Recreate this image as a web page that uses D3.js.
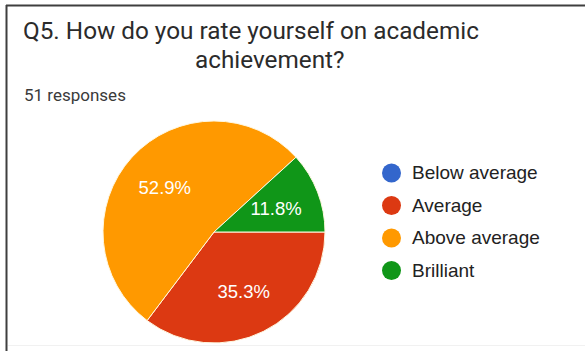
<!DOCTYPE html>
<html>
<head>
<meta charset="utf-8">
<script src="https://cdn.jsdelivr.net/npm/d3@7"></script>
<style>
  html, body { margin: 0; padding: 0; background: #fff; }
  svg { display: block; }
</style>
</head>
<body>
<svg id="chart" width="585" height="351"></svg>
<script>
// Survey answers for Q5
const categories = ["Below average", "Average", "Above average", "Brilliant"];
const counts = [0, 18, 27, 6];
const colors = ["#3366cc", "#dc3912", "#ff9900", "#109618"];
const titleLines = ["Q5. How do you rate yourself on academic", "achievement?"];
const responseNote = "51 responses";

const W = 585, H = 351;
const svg = d3.select("#chart");

// Card frame: dark rule on top and left, faint one at the bottom
svg.append("line").attr("x1", 6).attr("x2", W).attr("y1", 5.5).attr("y2", 5.5)
  .attr("stroke", "#3f3f3f").attr("stroke-width", 2);
svg.append("line").attr("x1", 6.5).attr("x2", 6.5).attr("y1", 5).attr("y2", H)
  .attr("stroke", "#3f3f3f").attr("stroke-width", 2);
svg.append("line").attr("x1", 8).attr("x2", W).attr("y1", 345.5).attr("y2", 345.5)
  .attr("stroke", "#f1f1f1").attr("stroke-width", 1);

// Title (two lines) and response count
svg.append("text").attr("x", 23).attr("y", 39)
  .attr("font-family", "Roboto, sans-serif").attr("font-size", 24.3)
  .attr("fill", "#2b2b2b").text(titleLines[0]);
svg.append("text").attr("x", 195).attr("y", 67.5)
  .attr("font-family", "Roboto, sans-serif").attr("font-size", 24.3)
  .attr("fill", "#2b2b2b").text(titleLines[1]);
svg.append("text").attr("x", 24).attr("y", 101)
  .attr("font-family", "Roboto, sans-serif").attr("font-size", 17)
  .attr("fill", "#3a3a3a").text(responseNote);

// Pie, starting at three o'clock and running clockwise
const cx = 214, cy = 232, R = 111;
const total = d3.sum(counts);
const data = categories.map((c, i) => ({ name: c, value: counts[i], color: colors[i] }));
const pie = d3.pie().value(d => d.value).sort(null)
  .startAngle(Math.PI / 2).endAngle(Math.PI / 2 + 2 * Math.PI);
const arcs = pie(data);
const arc = d3.arc().innerRadius(0).outerRadius(R);
const labelArc = d3.arc().innerRadius(R * 0.6).outerRadius(R * 0.6);

const g = svg.append("g").attr("transform", `translate(${cx},${cy})`);
g.selectAll("path.slice").data(arcs.filter(a => a.data.value > 0)).join("path")
  .attr("class", "slice")
  .attr("d", arc)
  .attr("fill", d => d.data.color)
  .attr("stroke", "#fff8e0").attr("stroke-width", 1);

const fmt = d3.format(".1f");
g.selectAll("text.pct").data(arcs.filter(a => a.data.value > 0)).join("text")
  .attr("class", "pct")
  .attr("transform", d => `translate(${labelArc.centroid(d)})`)
  .attr("text-anchor", "middle").attr("dy", "0.36em")
  .attr("font-family", "'Liberation Sans', Arial, sans-serif").attr("font-size", 18.5)
  .attr("fill", "#fff")
  .text(d => fmt(d.data.value / total * 100) + "%");

// Legend
const legend = svg.append("g");
const rowY = d3.scalePoint().domain(categories).range([179, 276.5]);
const rows = legend.selectAll("g").data(data).join("g")
  .attr("transform", d => `translate(0,${rowY(d.name)})`);
rows.append("circle").attr("cx", 391.5).attr("cy", -6).attr("r", 9.5)
  .attr("fill", d => d.color);
rows.append("text").attr("x", 412).attr("y", 0)
  .attr("font-family", "'Liberation Sans', Arial, sans-serif").attr("font-size", 19)
  .attr("fill", "#222").text(d => d.name);
</script>
</body>
</html>
